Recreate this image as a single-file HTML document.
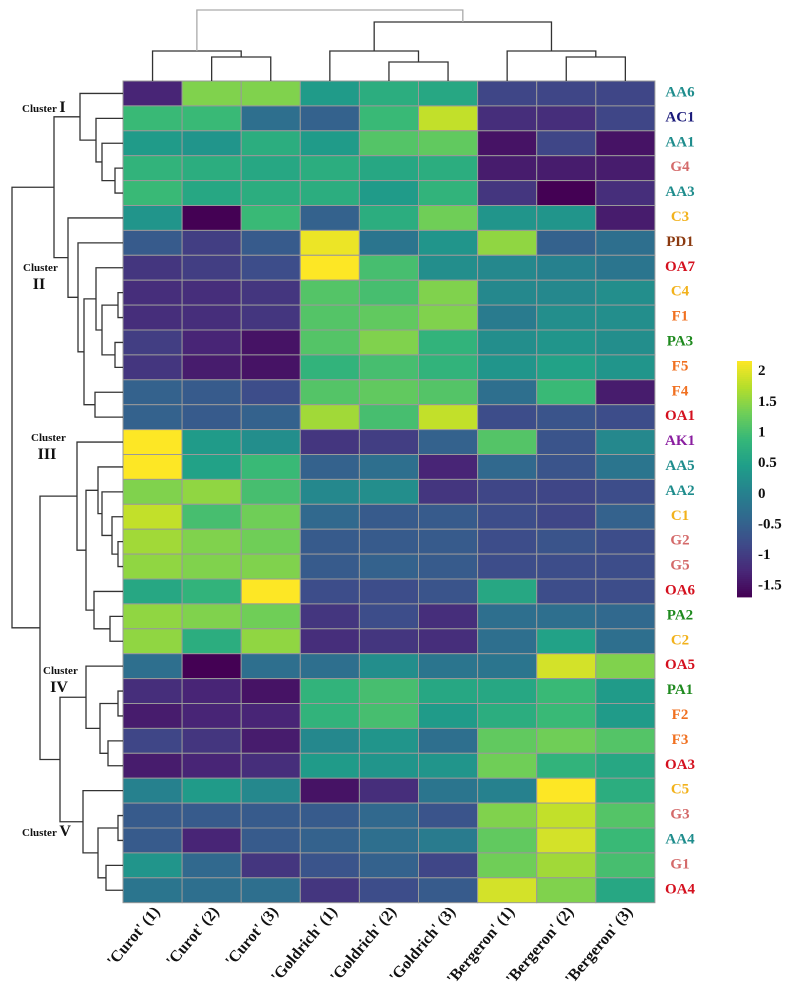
<!DOCTYPE html>
<html><head><meta charset="utf-8"><style>
body{margin:0;background:#fff;}
svg{display:block;font-family:"Liberation Serif",serif;font-weight:bold;}
</style></head><body>
<svg id="chart" width="793" height="999" viewBox="0 0 793 999" xmlns="http://www.w3.org/2000/svg">
<g id="cells"></g>
<g id="dendro" stroke="#333" stroke-width="1.3" fill="none"></g>
<g id="rowlabels"></g>
<g id="collabels"></g>
<g id="clusters"></g>
<g id="legend"></g>
</svg>
<script>
const columns = ["'Curot' (1)","'Curot' (2)","'Curot' (3)","'Goldrich' (1)","'Goldrich' (2)","'Goldrich' (3)","'Bergeron' (1)","'Bergeron' (2)","'Bergeron' (3)"];
const rows = ["AA6","AC1","AA1","G4","AA3","C3","PD1","OA7","C4","F1","PA3","F5","F4","OA1","AK1","AA5","AA2","C1","G2","G5","OA6","PA2","C2","OA5","PA1","F2","F3","OA3","C5","G3","AA4","G1","OA4"];
const values = [
[-1.3,1.4,1.4,0.4,0.7,0.6,-0.9,-0.9,-0.9],
[0.9,0.9,-0.3,-0.5,0.9,1.8,-1.2,-1.2,-0.9],
[0.4,0.3,0.7,0.4,1.1,1.2,-1.5,-0.9,-1.5],
[0.8,0.7,0.6,0.7,0.6,0.7,-1.4,-1.4,-1.4],
[0.9,0.6,0.7,0.7,0.4,0.8,-1.1,-1.75,-1.2],
[0.3,-1.75,0.9,-0.5,0.7,1.3,0.3,0.3,-1.4],
[-0.6,-1.0,-0.6,2.05,-0.2,0.3,1.5,-0.5,-0.3],
[-1.1,-1.0,-0.8,2.2,1.0,0.2,0.1,0.0,-0.2],
[-1.2,-1.2,-1.1,1.1,1.0,1.4,0.1,0.1,0.2],
[-1.2,-1.2,-1.1,1.1,1.2,1.4,-0.1,0.2,0.2],
[-1.0,-1.3,-1.5,1.1,1.4,0.8,0.2,0.3,0.2],
[-1.1,-1.4,-1.5,0.8,1.0,0.8,0.3,0.5,0.3],
[-0.5,-0.6,-0.8,1.1,1.2,1.1,-0.3,0.9,-1.4],
[-0.5,-0.6,-0.5,1.6,1.0,1.8,-0.8,-0.7,-0.8],
[2.2,0.4,0.2,-1.1,-1.0,-0.5,1.1,-0.7,0.1],
[2.2,0.5,0.9,-0.5,-0.3,-1.3,-0.4,-0.7,-0.2],
[1.4,1.5,1.0,0.1,0.2,-1.1,-0.9,-0.9,-0.8],
[1.8,1.0,1.3,-0.4,-0.6,-0.6,-0.8,-0.9,-0.5],
[1.6,1.4,1.3,-0.6,-0.6,-0.6,-0.8,-0.7,-0.8],
[1.5,1.4,1.4,-0.6,-0.5,-0.6,-0.8,-0.8,-0.8],
[0.6,0.8,2.2,-0.8,-0.8,-0.7,0.6,-0.8,-0.8],
[1.5,1.4,1.3,-1.1,-0.8,-1.2,-0.3,-0.3,-0.4],
[1.5,0.7,1.5,-1.2,-1.1,-1.2,-0.3,0.5,-0.3],
[-0.3,-1.75,-0.3,-0.3,0.2,-0.2,-0.2,1.9,1.4],
[-1.2,-1.3,-1.5,0.8,1.0,0.6,0.6,0.9,0.4],
[-1.4,-1.3,-1.3,0.8,1.0,0.4,0.7,0.9,0.4],
[-0.9,-1.1,-1.4,0.1,0.3,-0.3,1.2,1.3,1.1],
[-1.4,-1.3,-1.2,0.4,0.3,0.3,1.3,0.8,0.6],
[0.0,0.4,0.1,-1.5,-1.2,-0.2,0.0,2.2,0.7],
[-0.6,-0.6,-0.6,-0.6,-0.4,-0.7,1.4,1.8,1.1],
[-0.6,-1.3,-0.6,-0.5,-0.3,-0.1,1.2,1.9,0.9],
[0.3,-0.4,-1.1,-0.7,-0.5,-0.9,1.3,1.6,1.0],
[-0.2,-0.3,-0.3,-1.1,-0.8,-0.6,1.9,1.4,0.6]
];
const rowColors = {AA:"#1e8c8c",AC:"#1a1a7a",G:"#d46a6a",C:"#f2b21c",PD:"#8b3a10",OA:"#d4101e",F:"#f07020",PA:"#1f8a1f",AK:"#8a1ea0"};
const legendTicks = [2,1.5,1,0.5,0,-0.5,-1,-1.5];
const vmin=-1.7, vmax=2.15;

const NS="http://www.w3.org/2000/svg";
const X0=123, Y0=81, CW=59.1, RH=24.9;
function xc(j){return X0+CW*j;}
function yr(i){return Y0+RH*i;}
const stops=[[68,1,84],[72,40,120],[62,74,137],[49,104,142],[38,130,142],[31,158,137],[53,183,121],[110,206,88],[181,222,43],[253,231,37]];
function viridis(v){
  let t=(v-vmin)/(vmax-vmin); t=Math.max(0,Math.min(1,t));
  const p=t*(stops.length-1), k=Math.min(stops.length-2,Math.floor(p)), f=p-k;
  const c=stops[k].map((a,i)=>Math.round(a+(stops[k+1][i]-a)*f));
  return `rgb(${c[0]},${c[1]},${c[2]})`;
}
function mk(tag,attrs,parent){const e=document.createElementNS(NS,tag);for(const k in attrs)e.setAttribute(k,attrs[k]);parent.appendChild(e);return e;}

const cells=document.getElementById('cells');
values.forEach((row,i)=>row.forEach((v,j)=>{
  const r=mk('rect',{x:xc(j),y:yr(i),width:CW,height:RH,fill:viridis(v),stroke:'#999','stroke-width':1},cells);
  
  
}));

const rl=document.getElementById('rowlabels');
rows.forEach((n,i)=>{
  const pre=n.replace(/[0-9]/g,'');
  const t=mk('text',{x:680,y:yr(i)+RH/2+3,'text-anchor':'middle','font-size':15,fill:rowColors[pre]},rl);
  t.textContent=n;
  
  
});
const cl=document.getElementById('collabels');
columns.forEach((n,j)=>{
  const x=xc(j)+CW/2+8, y=912;
  const t=mk('text',{x:x,y:y,'text-anchor':'end','font-size':16,fill:'#111',transform:`rotate(-50 ${x} ${y})`},cl);
  t.textContent=n;
  
  
});

const dg=document.getElementById('dendro');
function line(pts,col){mk('polyline',{points:pts.map(p=>p.join(',')).join(' '),stroke:col||'#333'},dg);}
function rowY(i){return yr(i)+RH/2;}
function L(node){
  if(typeof node==='number') return {y:rowY(node),x:X0};
  const a=L(node.a), b=L(node.b);
  line([[a.x,a.y],[node.h,a.y],[node.h,b.y],[b.x,b.y]]);
  return {y:(a.y+b.y)/2,x:node.h};
}
const N=(h,a,b)=>({h,a,b});
const c1=N(80,0,N(96,1,N(102,2,N(115,3,4))));
const c2=N(68,5,N(78,6,N(84,N(96,7,N(102,N(118,8,9),N(115,10,11))),N(95,12,13))));
const c3=N(77,14,N(86,N(98,15,N(102,16,N(112,17,N(118,18,19)))),N(94,20,N(110,21,22))));
const c4=N(86,23,N(100,N(118,24,25),N(108,26,27)));
const c5=N(83,28,N(98,N(118,29,30),N(106,31,32)));
L(N(12,N(54,c1,c2),N(40,c3,N(60,c4,c5))));
function colX(j){return xc(j)+CW/2;}
function T(node){
  if(typeof node==='number') return {x:colX(node),y:Y0};
  const a=T(node.a), b=T(node.b);
  line([[a.x,a.y],[a.x,node.h],[b.x,node.h],[b.x,b.y]],node.c);
  return {x:(a.x+b.x)/2,y:node.h};
}
const M=(h,a,b,c)=>({h,a,b,c});
T(M(10,M(51,0,M(57,1,2)),M(22,M(51,3,M(62,4,5)),M(51,6,M(57,7,8))),'#aaa'));

const cg=document.getElementById('clusters');
function clab(x,y,num,inline){
  const t=mk('text',{x:x,y:y,'font-size':11,fill:'#111'},cg);
  
  
  if(inline){t.innerHTML='Cluster <tspan font-size="16">'+num+'</tspan>';}
  else{t.innerHTML='Cluster<tspan x="'+(x+16)+'" dy="18" font-size="16" text-anchor="middle">'+num+'</tspan>';}
}
clab(22,112,'I',true);
clab(23,271,'II',false);
clab(31,441,'III',false);
clab(43,674,'IV',false);
clab(22,836,'V',true);

const lg=document.getElementById('legend');
const LX=737,LW=15,LT=361,LB=597;
const ly=v=>LT+(vmax-v)/(vmax-vmin)*(LB-LT);
for(let k=0;k<118;k++){
  const v=vmax-(k+0.5)*(vmax-vmin)/118;
  mk('rect',{x:LX,y:LT+k*(LB-LT)/118,width:LW,height:(LB-LT)/118+0.4,fill:viridis(v)},lg);
}
legendTicks.forEach(v=>{
  const t=mk('text',{x:758,y:ly(v)+5,'font-size':15,fill:'#111'},lg);
  t.textContent=String(v);
  
  
});
</script>
</body></html>
